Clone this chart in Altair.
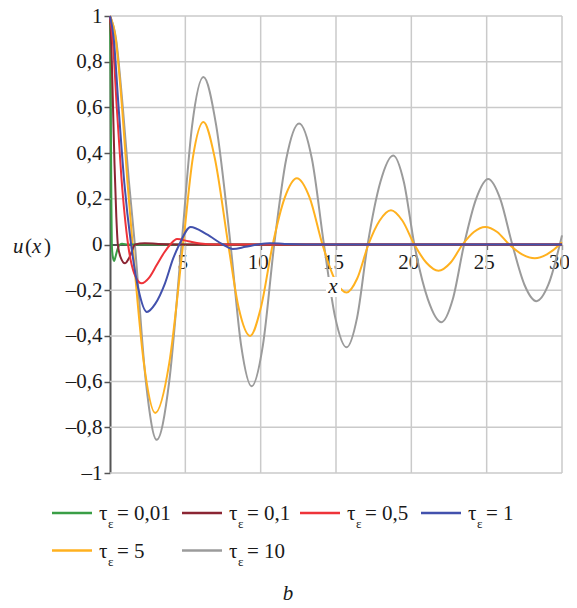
import altair as alt
import pandas as pd

# ---------------- data ----------------
TAUS = ["0,01", "0,1", "0,5", "1", "5", "10"]
COLORS = ["#3a9e46", "#8b2533", "#ee3339", "#4251ad", "#ffb11f", "#9b9b9b"]

X_TICKS = [5, 10, 15, 20, 25, 30]
Y_TICKS = [-1, -0.8, -0.6, -0.4, -0.2, 0, 0.2, 0.4, 0.6, 0.8, 1]

X_001 = [0, 0.03, 0.06, 0.09, 0.12, 0.18, 0.27, 0.38, 0.5, 0.66, 0.8, 1.2, 30]
U_001 = [1, 0.8, 0.5, 0.2, 0.0, -0.05, -0.072, -0.05, -0.02, 0.0, 0.003, 0, 0]

X_01 = [0, 0.1, 0.2, 0.3, 0.42, 0.52, 0.7, 1.0, 1.3, 1.66, 2.3, 3.2, 4.5, 30]
U_01 = [1, 0.85, 0.6, 0.35, 0.12, 0.0, -0.055, -0.082, -0.055, 0.0, 0.006, 0.002, 0, 0]

X_05 = [0, 0.2, 0.45, 0.75, 1.2, 1.6, 2.1, 2.6, 3.1, 3.6, 4.0, 4.45, 5.2, 6.0, 7.0, 30]
U_05 = [1, 0.88, 0.6, 0.3, 0.0, -0.125, -0.17, -0.145, -0.09, -0.035, 0.0, 0.024, 0.014, 0.004, 0, 0]

X_1 = [0, 0.25, 0.55, 0.95, 1.4, 1.9, 2.45, 3.0, 3.65, 4.2, 4.6, 5.35, 6.4, 7.5, 8.15, 9.0, 9.8, 10.6, 11.6, 13, 30]
U_1 = [1, 0.9, 0.62, 0.27, 0.0, -0.2, -0.295, -0.26, -0.17, -0.06, 0.0, 0.077, 0.045, 0.0, -0.02, -0.01, 0.0, 0.006, 0.002, 0, 0]

X_5 = [0, 0.38, 0.8, 1.15, 1.5, 2.25, 3.0, 3.93, 4.85, 5.5, 6.2, 6.95, 7.85, 8.55, 9.3, 10.0,
       10.8, 11.6, 12.4, 13.25, 14.1, 14.9, 15.7, 16.4, 17.15, 17.9, 18.65, 19.4, 20.2,
       21.0, 21.8, 22.6, 23.4, 24.15, 24.9, 25.7, 26.5, 27.35, 28.2, 29.0, 29.85, 30]
U_5 = [1, 0.9, 0.6, 0.28, 0.0, -0.52, -0.737, -0.52, 0.0, 0.38, 0.536, 0.38, 0.0, -0.28, -0.40, -0.28,
       0.0, 0.205, 0.29, 0.205, 0.0, -0.15, -0.21, -0.15, 0.0, 0.105, 0.15, 0.105, 0.0,
       -0.08, -0.115, -0.08, 0.0, 0.055, 0.077, 0.055, 0.0, -0.043, -0.06, -0.043, 0.0, 0.01]

X_10 = [0, 0.4, 0.85, 1.25, 1.65, 2.38, 3.1, 3.93, 4.75, 5.45, 6.2, 7.05, 8.0, 8.7, 9.4, 10.15,
        10.9, 11.7, 12.55, 13.4, 14.2, 14.95, 15.7, 16.4, 17.1, 17.95, 18.8, 19.5, 20.2,
        21.1, 22.0, 22.75, 23.5, 24.3, 25.1, 25.9, 26.7, 27.5, 28.3, 29.1, 30]
U_10 = [1, 0.9, 0.6, 0.28, 0.0, -0.6, -0.855, -0.6, 0.0, 0.52, 0.733, 0.52, 0.0, -0.44, -0.62, -0.44,
        0.0, 0.375, 0.53, 0.375, 0.0, -0.32, -0.45, -0.32, 0.0, 0.275, 0.39, 0.275, 0.0,
        -0.24, -0.34, -0.24, 0.0, 0.2, 0.287, 0.2, 0.0, -0.175, -0.248, -0.175, 0.04]

SERIES = {
    "0,01": (X_001, U_001),
    "0,1": (X_01, U_01),
    "0,5": (X_05, U_05),
    "1": (X_1, U_1),
    "5": (X_5, U_5),
    "10": (X_10, U_10),
}
DRAW_ORDER = ["10", "5", "0,01", "0,1", "0,5", "1"]
COLOR_OF = dict(zip(TAUS, COLORS))

# ---------------- layout ----------------
W, H = 452, 457
FONT = "Liberation Serif"
GRID = "#cacaca"

xs = alt.Scale(domain=[0, 30], nice=False, zero=False)
ys = alt.Scale(domain=[-1, 1], nice=False, zero=False)

x_axis = alt.Axis(
    values=X_TICKS, grid=False, offset=-H / 2, title=None, format="d",
    labelFlush=False, labelOverlap=False, labelOffset=-3,
    domainColor="#1a1a1a", domainWidth=1.5, tickColor="#333", tickWidth=1.2, tickSize=5,
    labelFont=FONT, labelFontSize=21, labelColor="#1a1a1a", labelPadding=2,
)
y_axis = alt.Axis(
    values=Y_TICKS, grid=False, title=None, labelFlush=False, labelOverlap=False,
    labelExpr="(datum.value < 0 ? '\u2013' : '') + replace(format(abs(datum.value), '.1~f'), '.', ',')",
    domainColor="#555", domainWidth=2, tickColor="#555", tickWidth=1.5, tickSize=6,
    labelFont=FONT, labelFontSize=21, labelColor="#1a1a1a", labelPadding=2,
)

ONE = alt.Data(values=[{"k": 1}])

layers = []
# grid
layers.append(
    alt.Chart(pd.DataFrame({"x": X_TICKS}))
    .mark_rule(color=GRID, strokeWidth=1.5)
    .encode(x=alt.X("x:Q", scale=xs, axis=x_axis))
)
layers.append(
    alt.Chart(pd.DataFrame({"y": Y_TICKS}))
    .transform_filter("datum.y != 0")
    .mark_rule(color=GRID, strokeWidth=1.5)
    .encode(y=alt.Y("y:Q", scale=ys, axis=y_axis))
)
# curves
for tau in DRAW_ORDER:
    xv, uv = SERIES[tau]
    layers.append(
        alt.Chart(pd.DataFrame({"x": xv, "y": uv}))
        .mark_line(interpolate="monotone", strokeWidth=2, color=COLOR_OF[tau])
        .encode(x=alt.X("x:Q", scale=xs, axis=x_axis), y=alt.Y("y:Q", scale=ys, axis=y_axis))
    )


def txt(s, x, y, size=21, italic=False, align="left"):
    kw = dict(text=s, font=FONT, fontSize=size, align=align, baseline="alphabetic", color="#1a1a1a")
    if italic:
        kw["fontStyle"] = "italic"
    return alt.Chart(ONE).mark_text(**kw).encode(x=alt.value(x), y=alt.value(y))


# x axis title with white box
layers.append(
    alt.Chart(ONE).mark_rect(color="white").encode(
        x=alt.value(216), x2=alt.value(231), y=alt.value(261), y2=alt.value(281)
    )
)
layers.append(txt("x", 223, 277, italic=True, align="center"))

# y axis title u(x)
layers.append(txt("u", -97, 237, italic=True))
layers.append(txt("(", -85, 237))
layers.append(txt("x", -78, 237, italic=True))
layers.append(txt(")", -66, 237))

# legend
COL_X = [-58, 72, 190, 311]
ROW_Y = [497, 534.5]
for i, tau in enumerate(TAUS):
    r, c = (0, i) if i < 4 else (1, i - 4)
    x0, y0 = COL_X[c], ROW_Y[r]
    x1 = x0 + 40
    layers.append(
        alt.Chart(ONE).mark_rule(color=COLOR_OF[tau], strokeWidth=2.5).encode(
            x=alt.value(x0), x2=alt.value(x1), y=alt.value(y0)
        )
    )
    layers.append(txt("\u03c4", x1 + 7, y0 + 7))
    layers.append(txt("\u03b5", x1 + 16, y0 + 15, size=13))
    layers.append(txt("= " + tau, x1 + 25, y0 + 7))

# panel letter
layers.append(txt("b", 178, 584, italic=True, align="center"))

chart = (
    alt.layer(*layers)
    .properties(
        width=W, height=H, autosize="none",
        padding={"left": 102, "top": 8, "right": 7, "bottom": 135},
        background="white",
    )
    .configure_view(stroke=None)
)

chart.save("out.html", embed_options={"renderer": "svg", "actions": False})
